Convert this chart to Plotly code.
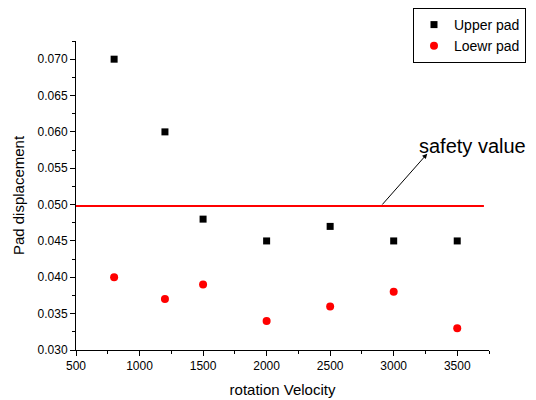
import plotly.graph_objects as go

velocity = [800, 1200, 1500, 2000, 2500, 3000, 3500]
upper_pad = [0.070, 0.060, 0.048, 0.045, 0.047, 0.045, 0.045]
lower_pad = [0.040, 0.037, 0.039, 0.034, 0.036, 0.038, 0.033]
safety_value = 0.0498
safety_x = [500, 3710]
series_names = ["Upper pad", "Loewr pad"]

FONT = "Liberation Sans, Arial, sans-serif"

fig = go.Figure()
fig.add_trace(go.Scatter(x=velocity, y=upper_pad, mode="markers", name=series_names[0],
                         marker=dict(symbol="square", size=7, color="black")))
fig.add_trace(go.Scatter(x=velocity, y=lower_pad, mode="markers", name=series_names[1],
                         marker=dict(symbol="circle", size=8, color="red")))

fig.add_shape(type="line", xref="x", yref="y", x0=safety_x[0], x1=safety_x[1],
              y0=safety_value, y1=safety_value, line=dict(color="red", width=2))

fig.add_annotation(x=3264, y=0.0570, ax=2900, ay=safety_value, xref="x", yref="y",
                   axref="x", ayref="y", text="", showarrow=True, arrowhead=2,
                   arrowsize=1, arrowwidth=1, arrowcolor="black")
fig.add_annotation(x=3618, y=0.0581, xref="x", yref="y", text="safety value",
                   showarrow=False, font=dict(family=FONT, size=20, color="black"))

axis_common = dict(showline=True, linecolor="black", linewidth=1, ticks="outside",
                   ticklen=5, tickcolor="black", showgrid=False, zeroline=False,
                   tickfont=dict(family=FONT, size=12, color="black"), mirror=False,
                   automargin=False)

fig.update_xaxes(range=[500, 3750], dtick=500, tick0=500, domain=[0, 413 / 460],
                 minor=dict(ticks="outside", ticklen=3, dtick=250, tickcolor="black"),
                 title=dict(text="rotation Velocity", font=dict(family=FONT, size=15, color="black"),
                            standoff=12),
                 **axis_common)
fig.update_yaxes(range=[0.030, 0.0725], dtick=0.005, tick0=0.030, tickformat=".3f",
                 domain=[0, 309 / 342],
                 minor=dict(ticks="outside", ticklen=3, dtick=0.0025, tickcolor="black"),
                 title=dict(text="Pad displacement", font=dict(family=FONT, size=15, color="black"),
                            standoff=9),
                 **axis_common)

# the page body has an 8px margin, so the figure is sized/offset to compensate
fig.update_layout(
    width=528, height=392,
    margin=dict(l=68, r=0, t=0, b=50),
    plot_bgcolor="white", paper_bgcolor="white",
    font=dict(family=FONT, color="black"),
    legend=dict(x=0.7326, y=1.0, xanchor="left", yanchor="top",
                bordercolor="black", borderwidth=1, bgcolor="white",
                font=dict(family=FONT, size=14, color="black"),
                tracegroupgap=0),
    showlegend=True,
)

fig.write_html("out.html")
